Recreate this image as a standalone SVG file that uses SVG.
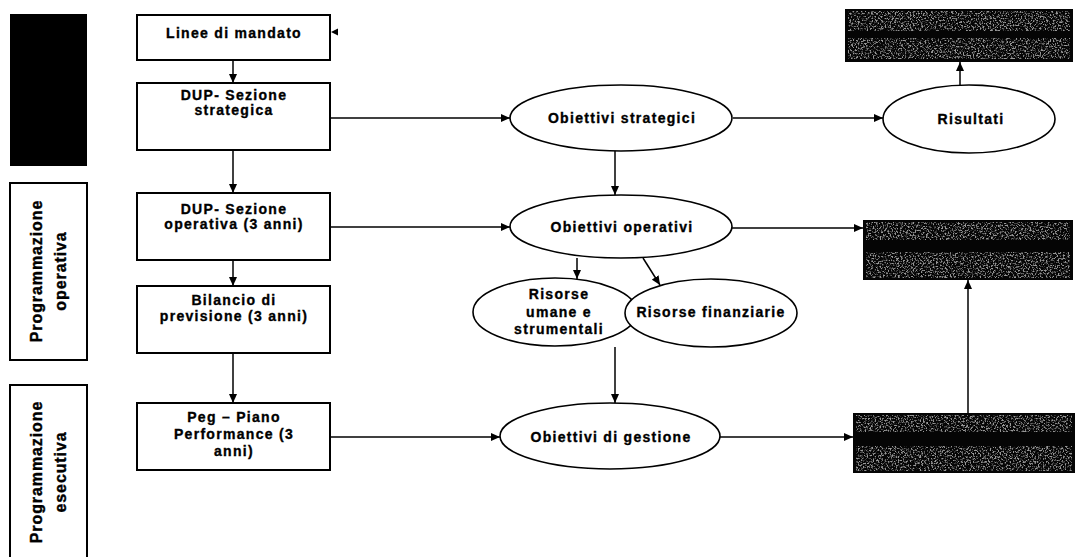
<svg xmlns="http://www.w3.org/2000/svg" width="1082" height="557" viewBox="0 0 1082 557">
  <style>
    .box { fill: #fff; stroke: #000; stroke-width: 2; }
    .ell { fill: #fff; stroke: #000; stroke-width: 1.6; }
    .lbl { font-family: "Liberation Sans", Arial, sans-serif; font-weight: bold; font-size: 14px; letter-spacing: 1.3px; fill: #000; stroke: #000; stroke-width: 0.35; text-anchor: middle; }
    .side { font-family: "Liberation Sans", Arial, sans-serif; font-weight: bold; font-size: 16px; letter-spacing: 0.9px; fill: #000; stroke: #000; stroke-width: 0.4; text-anchor: middle; }
    .conn line { stroke: #000; stroke-width: 1.5; marker-end: url(#arrow); }
    .dark { fill: #050505; }
    .grain { fill: #fff; filter: url(#speckle); opacity: 0.65; }
  </style>
  <defs>
    <marker id="arrow" markerUnits="userSpaceOnUse" markerWidth="9" markerHeight="8" refX="9" refY="4" orient="auto">
      <path d="M0,0 L9,4 L0,8 z" fill="#000"/>
    </marker>
    <!-- speckled grey texture for the dark result panels -->
    <filter id="speckle" x="0" y="0" width="1" height="1">
      <feTurbulence type="fractalNoise" baseFrequency="0.6" numOctaves="3" seed="7" result="n"/>
      <feColorMatrix in="n" type="matrix" values="0 0 0 0 0.8  0 0 0 0 0.8  0 0 0 0 0.8  5 0 0 0 -2.45" result="dots"/>
      <feComposite in="dots" in2="SourceGraphic" operator="in"/>
    </filter>
  </defs>

  <rect width="1082" height="557" fill="#fff"/>

  <!-- side bands -->
  <g id="band-strategica">
    <rect x="10" y="14" width="77" height="152" fill="#000"/>
  </g>
  <g id="band-operativa">
    <rect class="box" x="10" y="183" width="77" height="177"/>
    <text class="side" transform="translate(42,271) rotate(-90)">Programmazione</text>
    <text class="side" transform="translate(66,271) rotate(-90)">operativa</text>
  </g>
  <g id="band-esecutiva">
    <rect class="box" x="10" y="385" width="77" height="180"/>
    <text class="side" transform="translate(42,472) rotate(-90)">Programmazione</text>
    <text class="side" transform="translate(66,472) rotate(-90)">esecutiva</text>
  </g>

  <!-- connectors -->
  <g id="connectors" class="conn">
    <line x1="233" y1="60" x2="233" y2="83"/>
    <line x1="233" y1="150" x2="233" y2="193"/>
    <line x1="233" y1="260" x2="233" y2="286"/>
    <line x1="233" y1="353" x2="233" y2="403"/>
    <line x1="330" y1="118" x2="510" y2="118"/>
    <line x1="733" y1="118" x2="883" y2="118"/>
    <line x1="960" y1="85" x2="960" y2="62"/>
    <line x1="615" y1="151" x2="615" y2="195"/>
    <line x1="330" y1="227" x2="510" y2="227"/>
    <line x1="732" y1="228" x2="863" y2="228"/>
    <line x1="577" y1="258" x2="577" y2="279"/>
    <line x1="643" y1="258" x2="660" y2="285"/>
    <line x1="615" y1="347" x2="615" y2="403"/>
    <line x1="330" y1="437" x2="500" y2="437"/>
    <line x1="720" y1="437" x2="853" y2="437"/>
    <line x1="968" y1="413" x2="968" y2="280"/>
    <polygon points="331,32 338,28.5 338,35.5" fill="#000"/>
  </g>

  <!-- document boxes -->
  <g id="linee-mandato">
    <rect class="box" x="137" y="15" width="193" height="45"/>
    <text class="lbl" x="234" y="38">Linee di mandato</text>
  </g>
  <g id="dup-strategica">
    <rect class="box" x="137" y="83" width="193" height="67"/>
    <text class="lbl" x="234" y="100">DUP- Sezione</text>
    <text class="lbl" x="234" y="115">strategica</text>
  </g>
  <g id="dup-operativa">
    <rect class="box" x="137" y="193" width="193" height="67"/>
    <text class="lbl" x="234" y="214">DUP- Sezione</text>
    <text class="lbl" x="234" y="229">operativa (3 anni)</text>
  </g>
  <g id="bilancio">
    <rect class="box" x="137" y="286" width="193" height="67"/>
    <text class="lbl" x="234" y="305">Bilancio di</text>
    <text class="lbl" x="234" y="321">previsione (3 anni)</text>
  </g>
  <g id="peg">
    <rect class="box" x="137" y="403" width="193" height="67"/>
    <text class="lbl" x="234" y="422">Peg – Piano</text>
    <text class="lbl" x="234" y="439">Performance (3</text>
    <text class="lbl" x="234" y="456">anni)</text>
  </g>

  <!-- objectives -->
  <g id="obiettivi-strategici">
    <ellipse class="ell" cx="621" cy="118" rx="111" ry="33"/>
    <text class="lbl" x="622" y="123">Obiettivi strategici</text>
  </g>
  <g id="risultati">
    <ellipse class="ell" cx="969" cy="119" rx="86" ry="34"/>
    <text class="lbl" x="971" y="124">Risultati</text>
  </g>
  <g id="obiettivi-operativi">
    <ellipse class="ell" cx="621" cy="226.5" rx="111" ry="31.5"/>
    <text class="lbl" x="622" y="232">Obiettivi operativi</text>
  </g>
  <g id="risorse-umane">
    <ellipse class="ell" cx="555" cy="312" rx="82" ry="34"/>
    <text class="lbl" x="559" y="299">Risorse</text>
    <text class="lbl" x="559" y="317">umane e</text>
    <text class="lbl" x="559" y="334">strumentali</text>
  </g>
  <g id="risorse-finanziarie">
    <ellipse class="ell" cx="711" cy="313" rx="86" ry="34"/>
    <text class="lbl" x="711" y="317">Risorse finanziarie</text>
  </g>
  <g id="obiettivi-gestione">
    <ellipse class="ell" cx="610" cy="436" rx="110" ry="33"/>
    <text class="lbl" x="611" y="442">Obiettivi di gestione</text>
  </g>

  <!-- dark result panels -->
  <g id="panel-risultati">
    <rect class="dark" x="845" y="9" width="228" height="53"/>
    <rect class="grain" x="848" y="11" width="222" height="20"/>
    <rect class="grain" x="848" y="38" width="222" height="21"/>
  </g>
  <g id="panel-operativi">
    <rect class="dark" x="863" y="220" width="210" height="60"/>
    <rect class="grain" x="866" y="222" width="204" height="18"/>
    <rect class="grain" x="866" y="252" width="204" height="26"/>
  </g>
  <g id="panel-gestione">
    <rect class="dark" x="853" y="413" width="222" height="60"/>
    <rect class="grain" x="856" y="415" width="216" height="17"/>
    <rect class="grain" x="856" y="446" width="216" height="25"/>
  </g>
</svg>
